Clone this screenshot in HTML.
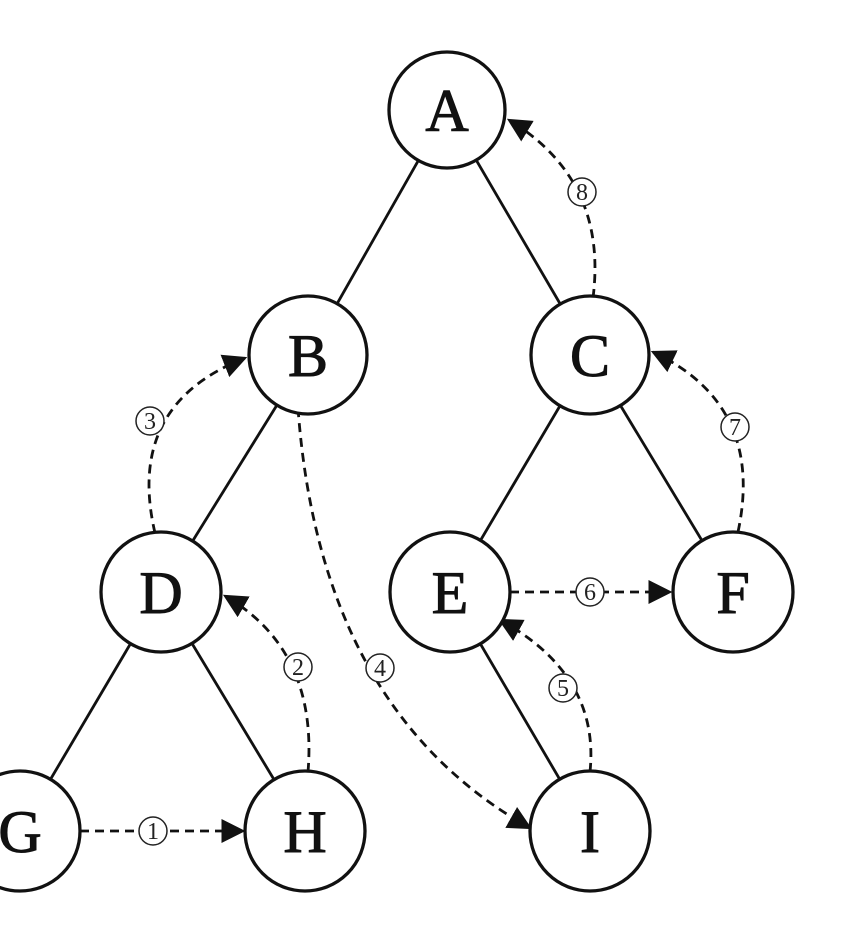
<!DOCTYPE html>
<html><head><meta charset="utf-8"><style>html,body{margin:0;padding:0;background:#fff}</style></head>
<body>
<svg width="854" height="946" viewBox="0 0 854 946" xmlns="http://www.w3.org/2000/svg">
<defs>
<marker id="a" viewBox="0 0 10 10" refX="9" refY="5" markerWidth="24" markerHeight="24" markerUnits="userSpaceOnUse" orient="auto"><path d="M0,0 L10,5 L0,10 z" fill="#111"/></marker>
</defs>
<g stroke="#111" stroke-width="2.8" fill="none">
<line x1="447" y1="110" x2="308" y2="355"/>
<line x1="447" y1="110" x2="590" y2="355"/>
<line x1="308" y1="355" x2="161" y2="592"/>
<line x1="590" y1="355" x2="450" y2="592"/>
<line x1="590" y1="355" x2="733" y2="592"/>
<line x1="161" y1="592" x2="20" y2="831"/>
<line x1="161" y1="592" x2="305" y2="831"/>
<line x1="450" y1="592" x2="590" y2="831"/>
</g>
<g stroke="#111" stroke-width="2.8" fill="none" stroke-dasharray="9 6" marker-end="url(#a)">
<path d="M80,831 L243,831"/>
<path d="M308,772 Q318,650 225,596"/>
<path d="M155,533 Q125,405 245,358"/>
<path d="M298,408 Q320,710 530,828"/>
<path d="M590,772 Q600,675 500,620"/>
<path d="M510,592 L670,592"/>
<path d="M738,532 Q765,405 653,352"/>
<path d="M593,298 Q608,180 509,120"/>
</g>
<g stroke="#111" stroke-width="3.3" fill="#fff">
<circle cx="447" cy="110" r="58"/>
<circle cx="308" cy="355" r="59"/>
<circle cx="590" cy="355" r="59"/>
<circle cx="161" cy="592" r="60"/>
<circle cx="450" cy="592" r="60"/>
<circle cx="733" cy="592" r="60"/>
<circle cx="20" cy="831" r="60"/>
<circle cx="305" cy="831" r="60"/>
<circle cx="590" cy="831" r="60"/>
</g>
<g font-family="Liberation Serif, serif" font-size="60" text-anchor="middle" fill="#111" stroke="#111" stroke-width="1">
<text x="447" y="131">A</text>
<text x="308" y="376">B</text>
<text x="590" y="376">C</text>
<text x="161" y="613">D</text>
<text x="450" y="613">E</text>
<text x="733" y="613">F</text>
<text x="20" y="852">G</text>
<text x="305" y="852">H</text>
<text x="590" y="852">I</text>
</g>
<g stroke="#222" stroke-width="1.5" fill="#fff">
<circle cx="153" cy="831" r="14"/>
<circle cx="298" cy="667" r="14"/>
<circle cx="150" cy="421" r="14"/>
<circle cx="380" cy="668" r="14"/>
<circle cx="563" cy="688" r="14"/>
<circle cx="590" cy="592" r="14"/>
<circle cx="735" cy="427" r="14"/>
<circle cx="582" cy="192" r="14"/>
</g>
<g font-family="Liberation Serif, serif" font-size="24" text-anchor="middle" fill="#222">
<text x="153" y="839">1</text>
<text x="298" y="675">2</text>
<text x="150" y="429">3</text>
<text x="380" y="676">4</text>
<text x="563" y="696">5</text>
<text x="590" y="600">6</text>
<text x="735" y="435">7</text>
<text x="582" y="200">8</text>
</g>
</svg>
</body></html>
